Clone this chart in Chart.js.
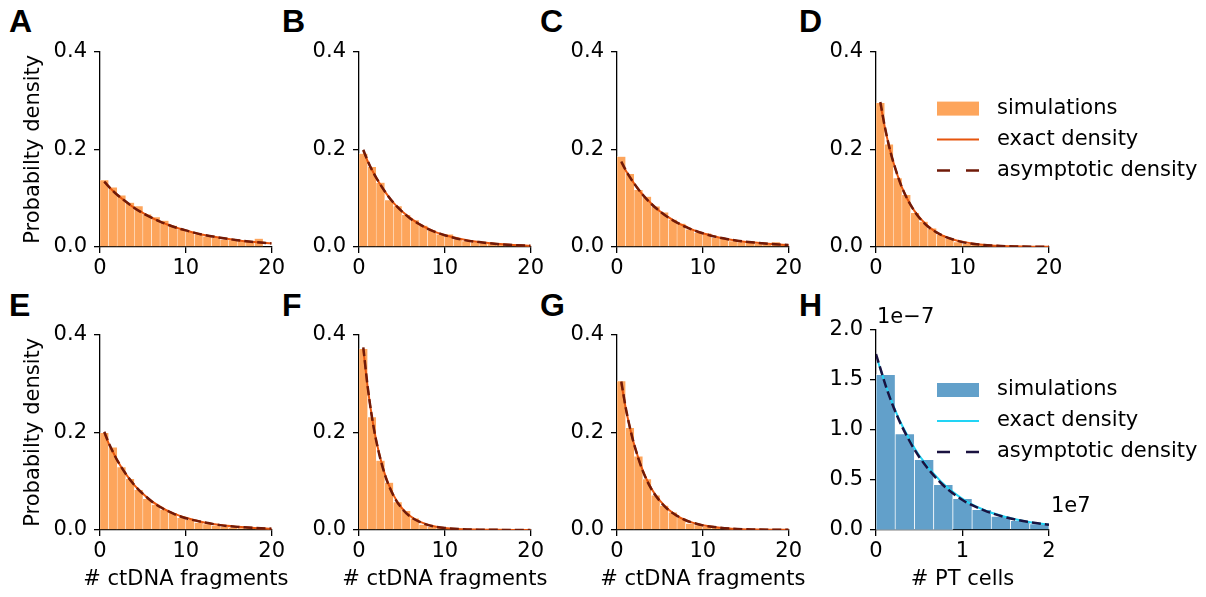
<!DOCTYPE html>
<html>
<head>
<meta charset="utf-8">
<script src="https://cdn.jsdelivr.net/npm/chart.js@4.4.0/dist/chart.umd.min.js"></script>
<style>
  body { margin: 0; background: #fff; width: 1206px; height: 597px; position: relative; overflow: hidden; }
  canvas { position: absolute; }
  .lab { position: absolute; font: bold 32px "Liberation Sans", Arial, sans-serif; color: #000; line-height: 1; }
</style>
</head>
<body>
<div class="lab" style="left:9px;top:5px">A</div>
<div class="lab" style="left:282px;top:5px">B</div>
<div class="lab" style="left:540px;top:5px">C</div>
<div class="lab" style="left:799px;top:5px">D</div>
<div class="lab" style="left:9px;top:289px">E</div>
<div class="lab" style="left:282px;top:289px">F</div>
<div class="lab" style="left:540px;top:289px">G</div>
<div class="lab" style="left:799px;top:289px">H</div>

<canvas id="cA" width="268" height="280" style="left:20px;top:32px"></canvas>
<canvas id="cB" width="268" height="280" style="left:279px;top:32px"></canvas>
<canvas id="cC" width="268" height="280" style="left:537px;top:32px"></canvas>
<canvas id="cD" width="413" height="280" style="left:796px;top:32px"></canvas>
<canvas id="cE" width="268" height="280" style="left:20px;top:315px"></canvas>
<canvas id="cF" width="268" height="280" style="left:279px;top:315px"></canvas>
<canvas id="cG" width="268" height="280" style="left:537px;top:315px"></canvas>
<canvas id="cH" width="413" height="300" style="left:796px;top:295px"></canvas>

<script>
// histogram bin centres (# ctDNA fragments)
const binsA = [0.5,1.5,2.5,3.5,4.5,5.5,6.5,7.5,8.5,9.5,10.5,11.5,12.5,13.5,14.5,15.5,16.5,17.5,18.5];
const bins20 = [0.5,1.5,2.5,3.5,4.5,5.5,6.5,7.5,8.5,9.5,10.5,11.5,12.5,13.5,14.5,15.5,16.5,17.5,18.5,19.5];
// PT cells bins (x 1e7)
const binsH = [0.111,0.333,0.556,0.778,1.0,1.222,1.444,1.667,1.889];

// simulated histograms (probability density)
const histA = [0.137,0.122,0.106,0.091,0.084,0.067,0.061,0.054,0.044,0.036,0.031,0.026,0.022,0.019,0.015,0.014,0.012,0.011,0.017];
const histB = [0.191,0.164,0.132,0.096,0.084,0.066,0.055,0.044,0.034,0.026,0.026,0.016,0.012,0.010,0.008,0.007,0.005,0.004,0.006,0.003];
const histC = [0.185,0.150,0.117,0.103,0.083,0.071,0.056,0.048,0.036,0.029,0.028,0.019,0.017,0.012,0.010,0.009,0.007,0.006,0.010,0.006];
const histD = [0.295,0.210,0.141,0.107,0.070,0.052,0.038,0.025,0.017,0.010,0.007,0.005,0.004,0.003,0.002,0.002,0.001,0.001,0.001,0.001];
const histE = [0.199,0.169,0.129,0.105,0.082,0.064,0.052,0.042,0.035,0.025,0.021,0.015,0.012,0.009,0.007,0.005,0.004,0.004,0.003,0.003];
const histF = [0.371,0.231,0.142,0.097,0.057,0.039,0.024,0.011,0.007,0.004,0.003,0.002,0.001,0.001,0.001,0.0005,0.0005,0.0003,0.0003,0.0002];
const histG = [0.305,0.209,0.151,0.104,0.071,0.050,0.036,0.025,0.013,0.010,0.007,0.005,0.004,0.003,0.002,0.002,0.001,0.001,0.001,0.001];
const histH = [1.553,0.960,0.703,0.453,0.313,0.203,0.137,0.093,0.060]; // x 1e-7

// density curves, read at these x values
const curveX = [0.5,1,1.5,2,3,4,5,6,7,8,9,10,12,14,16,18,20];
const exactA = [0.133,0.124,0.115,0.107,0.093,0.080,0.070,0.060,0.052,0.045,0.039,0.034,0.025,0.019,0.014,0.010,0.0076];
const asymA  = [0.134,0.124,0.115,0.107,0.093,0.080,0.069,0.060,0.052,0.045,0.039,0.034,0.025,0.019,0.014,0.010,0.0074];
const exactB = [0.197,0.176,0.158,0.142,0.114,0.091,0.073,0.059,0.047,0.038,0.030,0.024,0.016,0.010,0.0065,0.0042,0.0027];
const asymB  = [0.199,0.177,0.158,0.142,0.114,0.091,0.073,0.058,0.047,0.037,0.030,0.024,0.015,0.010,0.0063,0.0041,0.0026];
const exactC = [0.173,0.157,0.143,0.130,0.107,0.089,0.073,0.061,0.050,0.042,0.034,0.028,0.019,0.013,0.009,0.006,0.004];
const asymC  = [0.175,0.158,0.143,0.130,0.107,0.088,0.073,0.060,0.050,0.041,0.034,0.028,0.019,0.013,0.009,0.006,0.004];
const exactD = [0.294,0.247,0.207,0.174,0.122,0.086,0.061,0.043,0.030,0.021,0.015,0.011,0.0052,0.0026,0.0013,0.0006,0.0003];
const asymD  = [0.297,0.248,0.207,0.174,0.122,0.086,0.060,0.042,0.030,0.021,0.015,0.010,0.0050,0.0025,0.0012,0.0006,0.0003];
const exactE = [0.199,0.178,0.160,0.143,0.115,0.092,0.074,0.059,0.048,0.038,0.031,0.025,0.016,0.010,0.0066,0.0043,0.0028];
const asymE  = [0.201,0.179,0.160,0.143,0.115,0.092,0.074,0.059,0.047,0.038,0.030,0.024,0.016,0.010,0.0064,0.0042,0.0027];
const exactF = [0.371,0.294,0.232,0.184,0.115,0.072,0.045,0.028,0.0175,0.011,0.0068,0.0043,0.0017,0.0007,0.0003,0.0001,0.00004];
const asymF  = [0.374,0.295,0.232,0.183,0.114,0.071,0.044,0.027,0.017,0.0105,0.0065,0.0041,0.0016,0.0006,0.0003,0.0001,0.00004];
const exactG = [0.301,0.251,0.210,0.175,0.122,0.085,0.060,0.042,0.029,0.020,0.014,0.0098,0.0048,0.0023,0.0011,0.0005,0.0003];
const asymG  = [0.304,0.252,0.210,0.175,0.121,0.084,0.059,0.041,0.029,0.020,0.014,0.0095,0.0046,0.0022,0.0011,0.0005,0.0003];

const curveXH = [0,0.125,0.25,0.375,0.5,0.75,1.0,1.25,1.5,1.75,2.0];
const exactXH = [0.02,0.125,0.25,0.375,0.5,0.75,1.0,1.25,1.5,1.75,2.0];
const exactH = [1.69,1.42,1.14,0.925,0.745,0.485,0.312,0.200,0.130,0.083,0.054];
const asymH  = [1.76,1.41,1.13,0.91,0.73,0.47,0.30,0.196,0.127,0.082,0.053];

const orange = { bar: "#fda55c", exact: "#e6550d", asym: "#701a08" };
const blue = { bar: "#62a0ca", exact: "#22d4f5", asym: "#1a1240" };

const font = { family: "DejaVu Sans", size: 21 };
const fontCss = '21px "DejaVu Sans"';

function pts(xs, ys) {
    return xs.map((x, i) => ({ x: x, y: ys[i] }));
}

// legend drawn to the right of the axes (panels D and H)
const sideLegend = {
    id: "sideLegend",
    afterDraw(chart, args, opts) {
        if (!opts.show) return;
        const ctx = chart.ctx;
        const x0 = chart.chartArea.left + 61;
        const y0 = chart.chartArea.top + opts.dy;
        ctx.save();
        ctx.font = fontCss;
        ctx.textBaseline = "middle";
        chart.data.datasets.forEach((ds, i) => {
            const y = y0 + i * 31;
            if (ds.type === "line") {
                ctx.strokeStyle = ds.borderColor;
                ctx.lineWidth = ds.borderWidth;
                ctx.setLineDash(ds.borderDash ? [13, 16] : []);
                ctx.beginPath();
                ctx.moveTo(x0, y);
                ctx.lineTo(x0 + 42, y);
                ctx.stroke();
            } else {
                ctx.fillStyle = ds.backgroundColor;
                ctx.fillRect(x0, y - 7, 42, 14);
            }
            ctx.fillStyle = "#000";
            ctx.fillText(ds.label, x0 + 60, y);
        });
        ctx.restore();
    }
};

// x axis title, drawn without the width limit of the scale title
const xTitle = {
    id: "xTitle",
    afterDraw(chart, args, opts) {
        if (!opts.text) return;
        const ctx = chart.ctx, a = chart.chartArea;
        ctx.save();
        ctx.font = fontCss;
        ctx.fillStyle = "#000";
        ctx.textAlign = "center";
        ctx.textBaseline = "middle";
        ctx.fillText(opts.text, (a.left + a.right) / 2, a.bottom + 50);
        ctx.restore();
    }
};

// scientific offset labels ("1e−7", "1e7") for panel H
const offsetText = {
    id: "offsetText",
    afterDraw(chart, args, opts) {
        if (!opts.show) return;
        const ctx = chart.ctx, a = chart.chartArea;
        ctx.save();
        ctx.font = fontCss;
        ctx.fillStyle = "#000";
        ctx.textAlign = "left";
        ctx.textBaseline = "alphabetic";
        ctx.fillText("1e\u22127", a.left + 1, a.top - 7);
        ctx.fillText("1e7", a.right + 2, a.bottom - 18);
        ctx.restore();
    }
};

function makePanel(id, p) {
    const isH = !!p.pt;
    new Chart(document.getElementById(id), {
        type: "bar",
        data: {
            datasets: [
                {
                    type: "bar",
                    label: "simulations",
                    data: pts(p.bins, p.hist),
                    backgroundColor: p.col.bar,
                    borderColor: "#ffffff",
                    borderWidth: isH ? 0.7 : 0.5,
                    barPercentage: 1,
                    categoryPercentage: 1,
                    order: 3
                },
                {
                    type: "line",
                    label: "exact density",
                    data: pts(p.ex, p.exact),
                    borderColor: p.col.exact,
                    borderWidth: 2,
                    pointRadius: 0,
                    cubicInterpolationMode: "monotone",
                    fill: false,
                    order: 2
                },
                {
                    type: "line",
                    label: "asymptotic density",
                    data: pts(p.ax, p.asym),
                    borderColor: p.col.asym,
                    borderWidth: 2.5,
                    borderDash: [9, 4],
                    pointRadius: 0,
                    cubicInterpolationMode: "monotone",
                    fill: false,
                    order: 1
                }
            ]
        },
        options: {
            responsive: false,
            animation: false,
            layout: { padding: { top: isH ? 35 : 15, right: p.legend ? 160 : 15, left: 0, bottom: 0 } },
            plugins: {
                legend: { display: false },
                tooltip: { enabled: false },
                sideLegend: { show: !!p.legend, dy: isH ? 60 : 57 },
                xTitle: { text: p.xTitle || "" },
                offsetText: { show: isH }
            },
            scales: {
                x: {
                    type: "linear",
                    offset: false,
                    min: 0,
                    max: isH ? 2 : 20,
                    afterFit: s => { s.height = 65; },
                    ticks: { stepSize: isH ? 1 : 10, font: font, color: "#000", padding: 3,
                             maxRotation: 0, callback: v => String(v) },
                    grid: { offset: false, drawOnChartArea: false, tickLength: 6, color: "#000", lineWidth: 1.3 },
                    border: { color: "#000", width: 1.3 }
                },
                y: {
                    min: 0,
                    max: isH ? 2.0 : 0.4,
                    afterFit: s => { s.width = 80; },
                    ticks: { stepSize: isH ? 0.5 : 0.2, font: font, color: "#000", padding: 7,
                             callback: v => v.toFixed(1) },
                    grid: { drawOnChartArea: false, tickLength: 6, color: "#000", lineWidth: 1.3 },
                    border: { color: "#000", width: 1.3 },
                    title: { display: !!p.yTitle, text: p.yTitle || "", font: font, color: "#000",
                             padding: { top: 1, bottom: 0 } }
                }
            }
        },
        plugins: [sideLegend, xTitle, offsetText]
    });
}

const yT = "Probabilty density";
const xT = "# ctDNA fragments";

makePanel("cA", { bins: binsA, hist: histA, ex: curveX, exact: exactA, ax: curveX, asym: asymA, col: orange, yTitle: yT });
makePanel("cB", { bins: bins20, hist: histB, ex: curveX, exact: exactB, ax: curveX, asym: asymB, col: orange });
makePanel("cC", { bins: bins20, hist: histC, ex: curveX, exact: exactC, ax: curveX, asym: asymC, col: orange });
makePanel("cD", { bins: bins20, hist: histD, ex: curveX, exact: exactD, ax: curveX, asym: asymD, col: orange, legend: true });
makePanel("cE", { bins: bins20, hist: histE, ex: curveX, exact: exactE, ax: curveX, asym: asymE, col: orange, yTitle: yT, xTitle: xT });
makePanel("cF", { bins: bins20, hist: histF, ex: curveX, exact: exactF, ax: curveX, asym: asymF, col: orange, xTitle: xT });
makePanel("cG", { bins: bins20, hist: histG, ex: curveX, exact: exactG, ax: curveX, asym: asymG, col: orange, xTitle: xT });
makePanel("cH", { bins: binsH, hist: histH, ex: exactXH, exact: exactH, ax: curveXH, asym: asymH, col: blue, legend: true, pt: true, xTitle: "# PT cells" });
</script>
</body>
</html>
